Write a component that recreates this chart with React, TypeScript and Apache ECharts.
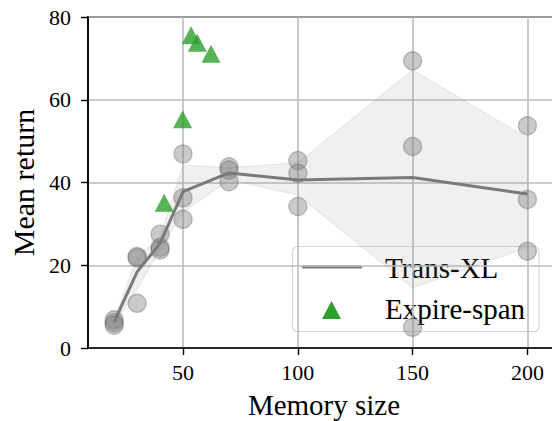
import React, { useEffect, useRef } from "react";
import * as echarts from "echarts";

// Trans-XL individual runs (three seeds) per memory size
const memorySizes = [20, 30, 40, 50, 70, 100, 150, 200];
const runA = [6.8, 22.1, 27.5, 46.9, 43.8, 45.3, 69.4, 53.7];
const runB = [6.1, 21.8, 24.3, 36.3, 43.0, 42.2, 48.7, 35.9];
const runC = [5.5, 10.8, 23.7, 31.1, 40.2, 34.2, 5.0, 23.4];
// Trans-XL mean and confidence band
const transXLMean = [6.3, 18.4, 25.3, 37.8, 42.3, 40.6, 41.2, 37.2];
const bandLow = [5.6, 14.2, 23.8, 32.8, 40.6, 37.0, 14.5, 24.3];
const bandHigh = [6.9, 22.0, 26.8, 44.2, 43.6, 44.8, 67.2, 50.8];
// Expire-span
const expireX = [41.8, 49.8, 53.5, 56.2, 62.2];
const expireY = [35.1, 55.3, 75.6, 73.8, 71.1];
// Axis ticks
const xTicks = [50, 100, 150, 200];
const yTicks = [0, 20, 40, 60, 80];

const FONT = "serif";

export default function App() {
  const ref = useRef<HTMLDivElement>(null);

  useEffect(() => {
    document.body.style.margin = "0";
    if (!ref.current) return;
    const chart = echarts.init(ref.current, undefined, { renderer: "svg" });

    const seedPoints: number[][] = [];
    memorySizes.forEach((x, i) => {
      seedPoints.push([x, runA[i]]);
      seedPoints.push([x, runB[i]]);
      seedPoints.push([x, runC[i]]);
    });

    const option: any = {
      animation: false,
      backgroundColor: "#fff",
      textStyle: { fontFamily: FONT },
      grid: {
        left: 88, top: 17, width: 472, height: 331,
        outerBoundsMode: "none", containLabel: false,
        show: true, borderColor: "#000", borderWidth: 1.6, backgroundColor: "transparent",
      },
      xAxis: {
        type: "value", min: 8.6, max: 214.2, splitNumber: 4,
        axisLine: { show: true, lineStyle: { color: "#000", width: 1.6 } },
        axisTick: { show: true, customValues: xTicks, length: 7, lineStyle: { color: "#000", width: 1.4 } },
        axisLabel: { customValues: xTicks, fontFamily: FONT, fontSize: 22, color: "#000", margin: 13 },
        splitLine: { show: true, lineStyle: { color: "#bcbcbc", width: 1.6 } },
        name: "Memory size", nameLocation: "middle", nameGap: 42,
        nameTextStyle: { fontFamily: FONT, fontSize: 29, color: "#000" },
      },
      yAxis: {
        type: "value", min: yTicks[0], max: yTicks[yTicks.length - 1], interval: 20,
        axisLine: { show: true, lineStyle: { color: "#000", width: 1.6 } },
        axisTick: { show: true, length: 7, lineStyle: { color: "#000", width: 1.4 } },
        axisLabel: { fontFamily: FONT, fontSize: 22, color: "#000", margin: 17 },
        splitLine: { show: true, lineStyle: { color: "#bcbcbc", width: 1.6 } },
        name: "Mean return", nameLocation: "middle", nameGap: 48,
        nameTextStyle: { fontFamily: FONT, fontSize: 30, color: "#000" },
      },
      series: [
        {
          type: "custom", silent: true, z: 1,
          data: [[memorySizes[0], bandLow[0]]],
          renderItem: (_params: any, api: any) => {
            const pts: number[][] = [];
            for (let i = 0; i < memorySizes.length; i++) pts.push(api.coord([memorySizes[i], bandHigh[i]]));
            for (let i = memorySizes.length - 1; i >= 0; i--) pts.push(api.coord([memorySizes[i], bandLow[i]]));
            return {
              type: "polygon", shape: { points: pts },
              style: { fill: "rgba(128,128,128,0.12)", stroke: "rgba(128,128,128,0.12)", lineWidth: 1.2 },
            };
          },
        },
        {
          name: "seeds", type: "scatter", z: 2, data: seedPoints, symbol: "circle", symbolSize: 18,
          itemStyle: { color: "rgba(128,128,128,0.52)", borderColor: "rgba(90,90,90,0.45)", borderWidth: 1.3 },
        },
        {
          name: "Trans-XL", type: "line", z: 3,
          data: memorySizes.map((x, i) => [x, transXLMean[i]]),
          showSymbol: false, symbol: "none", lineStyle: { color: "#7a7a7a", width: 3 },
        },
        {
          name: "Expire-span", type: "scatter", z: 4,
          data: expireX.map((x, i) => [x, expireY[i]]),
          symbol: "triangle", symbolSize: [19, 18], itemStyle: { color: "#2ca02c" },
        },
      ],
      graphic: [
        {
          type: "group", z: 100,
          children: [
            { type: "rect", shape: { x: 292.5, y: 246.5, width: 246.5, height: 85, r: 5 },
              style: { fill: "rgba(255,255,255,0.8)", stroke: "rgba(204,204,204,0.8)", lineWidth: 1.2 } },
            { type: "line", shape: { x1: 302, y1: 267, x2: 362, y2: 267 }, style: { stroke: "#7a7a7a", lineWidth: 3 } },
            { type: "polygon", shape: { points: [[331.5, 301], [341, 319], [322, 319]] }, style: { fill: "#2ca02c" } },
            { type: "text", x: 385, y: 268,
              style: { text: "Trans-XL", fontFamily: FONT, fontSize: 29, fill: "#000", verticalAlign: "middle" } },
            { type: "text", x: 385, y: 309,
              style: { text: "Expire-span", fontFamily: FONT, fontSize: 29, fill: "#000", verticalAlign: "middle" } },
          ],
        },
      ],
    };

    chart.setOption(option);
    return () => { chart.dispose(); };
  }, []);

  return <div ref={ref} style={{ width: 552, height: 421 }} />;
}
